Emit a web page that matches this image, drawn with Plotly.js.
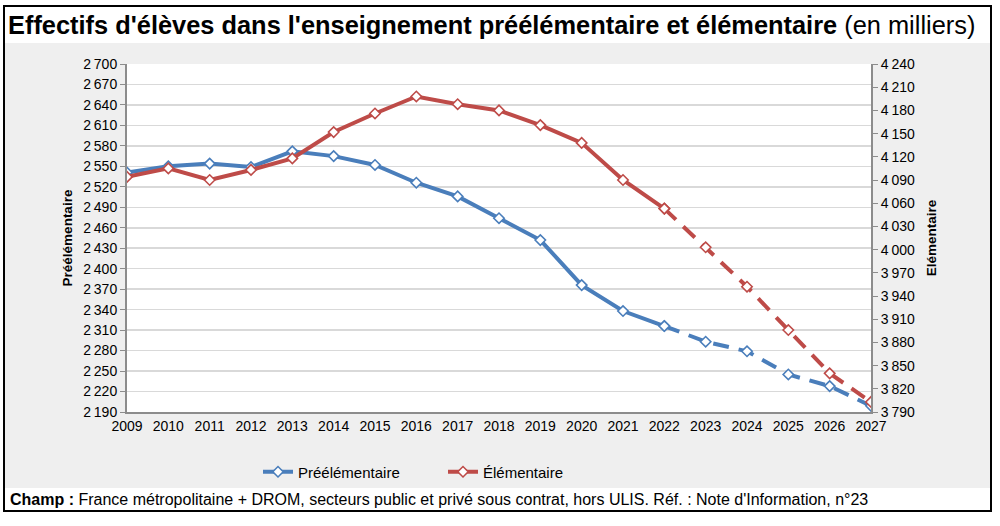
<!DOCTYPE html>
<html><head><meta charset="utf-8">
<script src="https://cdn.plot.ly/plotly-3.0.1.min.js"></script>
<style>html,body{margin:0;padding:0;background:#fff}#chart{width:1000px;height:526px}</style>
</head><body><div id="chart"></div>
<script>
// ---- data (thousands of pupils) ----
const years = [2009,2010,2011,2012,2013,2014,2015,2016,2017,2018,2019,2020,2021,2022,2023,2024,2025,2026,2027];
const histYears = [2009,2010,2011,2012,2013,2014,2015,2016,2017,2018,2019,2020,2021,2022];
const projYears = [2022,2023,2024,2025,2026,2027];
const preelemHist = [2541,2550,2554,2549,2572,2565,2552,2526,2506,2474,2442,2376,2338,2316];
const preelemProj = [2316,2293,2279,2245,2228,2199];
const elemHist = [4094,4105,4090,4103,4118,4152,4176,4198,4188,4180,4161,4138,4090,4053];
const elemProj = [4053,4003,3952,3896,3840,3803];
const seriesNames = ['Préélémentaire','Élémentaire'];
const axisTitles = ['Préélémentaire','Elémentaire'];
const titleBold = "Effectifs d'élèves dans l'enseignement préélémentaire et élémentaire";
const titleRest = " (en milliers)";
const footer = "<b>Champ :</b> France métropolitaine + DROM, secteurs public et privé sous contrat, hors ULIS. Réf. : Note d'Information, n°23";

// ---- layout helpers ----
const L=127, R=871, T=64, B=412, W=1000, H=526;
const px = x => (x-L)/(R-L);
const py = y => (B-y)/(B-T);
const blue='#4A7EBB', red='#BE4B48';
const narrow = 'Liberation Sans Narrow, Arial Narrow, Liberation Sans, Arial, sans-serif';
const arial = 'Liberation Sans, Arial, sans-serif';

const mk = c => ({symbol:'diamond', size:8, color:'#ffffff', line:{color:c, width:1.6}});
const traces = [
  {x:histYears, y:preelemHist, name:seriesNames[0], mode:'lines+markers', yaxis:'y',
   line:{color:blue, width:4}, marker:mk(blue), legendgroup:'a'},
  {x:projYears, y:preelemProj, name:seriesNames[0], mode:'lines+markers', yaxis:'y',
   line:{color:blue, width:4, dash:'16px,10px'}, marker:mk(blue), showlegend:false, legendgroup:'a'},
  {x:histYears, y:elemHist, name:seriesNames[1], mode:'lines+markers', yaxis:'y2',
   line:{color:red, width:4}, marker:mk(red), legendgroup:'b'},
  {x:projYears, y:elemProj, name:seriesNames[1], mode:'lines+markers', yaxis:'y2',
   line:{color:red, width:4, dash:'16px,10px'}, marker:mk(red), showlegend:false, legendgroup:'b'}
];

const layout = {
  width:W, height:H,
  margin:{l:L, r:W-R, t:T, b:H-B, pad:0},
  paper_bgcolor:'#ffffff', plot_bgcolor:'#ffffff',
  separators:',\u2009',
  showlegend:true,
  font:{family:arial, size:14, color:'#000'},
  title:{text:'<b>'+titleBold+'</b>'+titleRest, x:8/W, xanchor:'left', xref:'container',
         y:1-25/H, yanchor:'middle', yref:'container', font:{family:narrow, size:25.4, color:'#000'}},
  xaxis:{range:[2009,2027], tickvals:years, ticktext:years.map(String), showgrid:false, zeroline:false,
         showline:true, linecolor:'#8c8c8c', linewidth:2, ticks:'', tickfont:{family:arial,size:14}, fixedrange:true},
  yaxis:{range:[2190,2700], dtick:30, tick0:2190, tickformat:',d', showgrid:true, gridcolor:'#d9d9d9', gridwidth:1.5,
         zeroline:false, showline:true, linecolor:'#8c8c8c', linewidth:2, ticks:'outside', ticklen:5, tickcolor:'#8c8c8c',
         tickfont:{family:arial,size:14},
         title:{text:'<b>'+axisTitles[0]+'</b>', font:{family:arial,size:13.5}, standoff:8}},
  yaxis2:{range:[3790,4240], dtick:30, tick0:3790, tickformat:',d', overlaying:'y', side:'right', showgrid:false,
          zeroline:false, showline:true, linecolor:'#8c8c8c', linewidth:2, ticks:'outside', ticklen:5, tickcolor:'#8c8c8c',
          tickfont:{family:arial,size:14},
          title:{text:'<b>'+axisTitles[1]+'</b>', font:{family:arial,size:13.5}, standoff:13}},
  legend:{orientation:'h', x:px(258), xanchor:'left', y:py(472), yanchor:'middle', bgcolor:'rgba(0,0,0,0)',
          font:{family:narrow,size:15}, entrywidth:140, traceorder:'normal'},
  shapes:[
    {type:'rect', xref:'paper', yref:'paper', x0:px(5), x1:px(990), y0:py(488), y1:py(43), fillcolor:'#efefef', line:{width:0}, layer:'below'},
    {type:'rect', xref:'paper', yref:'paper', x0:0, x1:1, y0:0, y1:1, fillcolor:'#ffffff', line:{width:0}, layer:'below'},
    {type:'rect', xref:'paper', yref:'paper', x0:px(4), x1:px(991), y0:py(511), y1:py(6), fillcolor:'rgba(0,0,0,0)', line:{color:'#000', width:2}, layer:'above'}
  ],
  annotations:[
    {text:footer, xref:'paper', yref:'paper', x:px(8), xanchor:'left', y:py(499), yanchor:'middle', showarrow:false,
     font:{family:narrow, size:16, color:'#000'}}
  ]
};
Plotly.newPlot('chart', traces, layout, {displayModeBar:false, staticPlot:true});
</script></body></html>
